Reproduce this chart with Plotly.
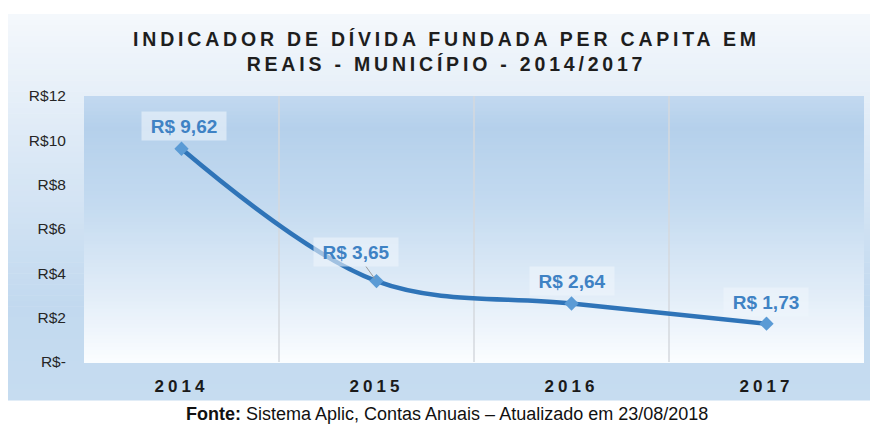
import plotly.graph_objects as go

# ---- data ----
categories = ["2014", "2015", "2016", "2017"]
values = [9.62, 3.65, 2.64, 1.73]
value_labels = ["R$ 9,62", "R$ 3,65", "R$ 2,64", "R$ 1,73"]
y_tickvals = [0, 2, 4, 6, 8, 10, 12]
y_ticktext = ["R$-", "R$2", "R$4", "R$6", "R$8", "R$10", "R$12"]
title_text = "INDICADOR DE DÍVIDA FUNDADA PER CAPITA EM<br>REAIS - MUNICÍPIO - 2014/2017"
footer_text = "<b>Fonte:</b> Sistema Aplic, Contas Anuais – Atualizado em 23/08/2018"

W, H = 873, 424
ML, MR, MT, MB = 84, 9, 96, 62
PW, PH = W - ML - MR, H - MT - MB
FONT = "Liberation Sans, Arial"


def hex2rgb(h):
    h = h.lstrip("#")
    return tuple(int(h[i:i + 2], 16) for i in (0, 2, 4))


def lerp_stops(stops, t):
    for i in range(len(stops) - 1):
        t0, c0 = stops[i]
        t1, c1 = stops[i + 1]
        if t0 <= t <= t1:
            f = (t - t0) / (t1 - t0) if t1 > t0 else 0
            a, b = hex2rgb(c0), hex2rgb(c1)
            return "rgb(%d,%d,%d)" % tuple(round(a[k] + (b[k] - a[k]) * f) for k in range(3))
    return stops[-1][1]


def px_to_paper_x(px):
    return (px - ML) / PW


def px_to_paper_y(py):
    return (H - MB - py) / PH


shapes = []
# outer chart background gradient (top -> bottom)
outer_stops = [(0, "#f4f8fc"), (0.35, "#dce9f6"), (0.75, "#c2d9ef"), (1, "#c6dcf0")]
top_px, bot_px = 14, 400
n = 70
for i in range(n):
    y0 = top_px + (bot_px - top_px) * i / n
    y1 = top_px + (bot_px - top_px) * (i + 1) / n + 0.6
    shapes.append(dict(type="rect", xref="paper", yref="paper",
                       x0=px_to_paper_x(8), x1=px_to_paper_x(870),
                       y0=px_to_paper_y(y1), y1=px_to_paper_y(y0),
                       fillcolor=lerp_stops(outer_stops, (i + 0.5) / n),
                       line=dict(width=0), layer="below"))
# plot area gradient
plot_stops = [(0, "#c2d9f0"), (0.12, "#b5d0eb"), (0.4, "#c3daf0"), (0.75, "#e2edf8"), (1, "#fbfdff")]
n = 70
for i in range(n):
    y0 = i / n
    y1 = (i + 1) / n
    shapes.append(dict(type="rect", xref="paper", yref="paper",
                       x0=0, x1=1, y0=1 - y1 - 0.004, y1=1 - y0,
                       fillcolor=lerp_stops(plot_stops, (i + 0.5) / n),
                       line=dict(width=0), layer="below"))
# vertical category gridlines
for k in range(1, len(categories)):
    shapes.append(dict(type="line", xref="x", yref="paper", x0=k - 0.5, x1=k - 0.5,
                       y0=0, y1=1, line=dict(color="#d4d9de", width=1.5), layer="below"))

xs = list(range(len(categories)))

fig = go.Figure()
fig.add_trace(go.Scatter(
    x=xs, y=values, mode="lines+markers",
    line=dict(color="#2f74b8", width=4.5, shape="spline", smoothing=1.0),
    marker=dict(symbol="diamond", size=11, color="#5b9bd5"),
    hoverinfo="skip", showlegend=False))

annotations = []
shifts = [(2, 23), None, (0, 22), (-1, 22)]
for i, (v, lab) in enumerate(zip(values, value_labels)):
    common = dict(x=xs[i], y=v, xref="x", yref="y", text="<b>%s</b>" % lab,
                  font=dict(family=FONT, size=19, color="#3f82c4"),
                  bgcolor="rgba(238,245,252,0.6)", width=80, height=24, borderpad=2)
    if shifts[i] is None:
        annotations.append(dict(common, showarrow=True, ax=-21, ay=-29, arrowhead=0,
                                arrowwidth=1, arrowcolor="#9a9a9a", standoff=3))
    else:
        annotations.append(dict(common, showarrow=False, xshift=shifts[i][0], yshift=shifts[i][1]))

annotations.append(dict(text="<b>" + title_text + "</b>", xref="paper", yref="paper",
                        x=px_to_paper_x(446), y=px_to_paper_y(52), xanchor="center", yanchor="middle",
                        showarrow=False, align="center",
                        font=dict(family=FONT, size=19.5, color="#1e1e1e")))
annotations.append(dict(text=footer_text, xref="paper", yref="paper",
                        x=px_to_paper_x(447), y=px_to_paper_y(414), xanchor="center", yanchor="middle",
                        showarrow=False,
                        font=dict(family=FONT, size=18, color="#111111")))

fig.update_layout(
    width=W, height=H, margin=dict(l=ML, r=MR, t=MT, b=MB),
    paper_bgcolor="white", plot_bgcolor="rgba(0,0,0,0)",
    shapes=shapes, annotations=annotations,
    xaxis=dict(range=[-0.5, 3.5], tickvals=xs, ticktext=categories, showgrid=False,
               zeroline=False, showline=False, ticks="outside", ticklen=9, tickcolor="rgba(0,0,0,0)",
               tickfont=dict(family=FONT, size=17, color="#1a1a1a", weight="bold"),
               fixedrange=True),
    yaxis=dict(range=[0, 12], tickvals=y_tickvals, ticktext=y_ticktext, showgrid=False,
               zeroline=False, showline=False, ticks="outside", ticklen=14, tickcolor="rgba(0,0,0,0)",
               tickfont=dict(family=FONT, size=15.5, color="#262626"),
               fixedrange=True),
)

post = """
document.body.style.margin='0';
var gd=document.getElementById('{plot_id}');
gd.querySelectorAll('.xtick text').forEach(function(e){e.style.letterSpacing='4px';});
gd.querySelectorAll('.annotation-text').forEach(function(e){
  if(e.textContent.indexOf('INDICADOR')>=0){e.style.letterSpacing='3.8px';}
});
"""
fig.write_html("out.html", post_script=post, config={"displayModeBar": False})
